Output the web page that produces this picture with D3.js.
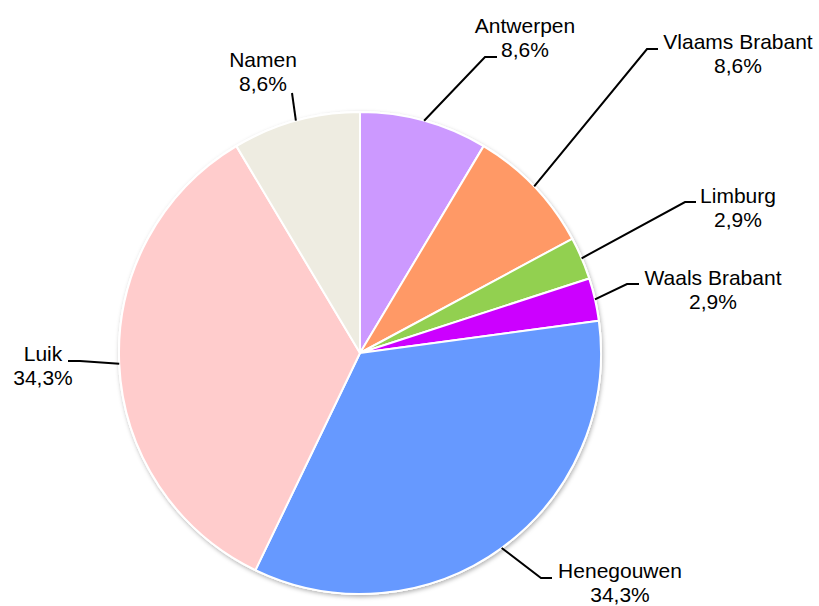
<!DOCTYPE html>
<html>
<head>
<meta charset="UTF-8" />
<title>Verdeling per provincie</title>
<script src="https://d3js.org/d3.v7.min.js"></script>
<style>
	body { margin: 0; background: #fff; }
	.lbl { font: 21px "Liberation Sans", Arial, sans-serif; fill: #000; }
	.leader { fill: none; stroke: #000; stroke-width: 2; }
</style>
</head>
<body>
<div id="chart"></div>
<script>
// data
var regions = ["Antwerpen", "Vlaams Brabant", "Limburg", "Waals Brabant", "Henegouwen", "Luik", "Namen"];
var counts  = [3, 3, 1, 1, 12, 12, 3];
var colors  = ["#CC99FF", "#FF9966", "#92D050", "#CC00FF", "#6699FF", "#FFCCCC", "#EEECE1"];

// label placement: elbow of leader, end of short horizontal, text centre x, first baseline
var labelPos = [
	{ex: 485, ey: 57,  hx: 497, tx: 525, ty: 33},
	{ex: 647, ey: 49,  hx: 658, tx: 738, ty: 49},
	{ex: 685, ey: 202, hx: 696, tx: 738, ty: 203},
	{ex: 627, ey: 284, hx: 639, tx: 713, ty: 285},
	{ex: 541, ey: 578, hx: 552, tx: 620, ty: 578},
	{ex: 80,  ey: 361, hx: 68,  tx: 43,  ty: 361},
	{ex: 292, ey: 93,  hx: 292, tx: 263, ty: 67}
];

var width = 819, height = 606;
var cx = 360, cy = 353, radius = 241;

var svg = d3.select("#chart").append("svg")
	.attr("width", width)
	.attr("height", height);

var defs = svg.append("defs");
defs.append("filter")
	.attr("id", "shadow")
	.attr("x", "-10%").attr("y", "-10%")
	.attr("width", "120%").attr("height", "120%")
	.append("feDropShadow")
	.attr("dx", 1).attr("dy", 2)
	.attr("stdDeviation", 2)
	.attr("flood-color", "#000")
	.attr("flood-opacity", 0.3);

var total = d3.sum(counts);
var data = regions.map(function(r, i) { return {name: r, value: counts[i], color: colors[i], pos: labelPos[i]}; });

var pie = d3.pie().sort(null).value(function(d) { return d.value; });
var arc = d3.arc().innerRadius(0).outerRadius(radius);
var arcs = pie(data);

var g = svg.append("g").attr("transform", "translate(" + cx + "," + cy + ")");

// white disc with shadow under the slices
g.append("circle")
	.attr("r", radius + 1)
	.attr("fill", "#fff")
	.attr("filter", "url(#shadow)");

g.selectAll("path.slice")
	.data(arcs)
	.enter().append("path")
	.attr("class", "slice")
	.attr("d", arc)
	.attr("fill", function(d) { return d.data.color; })
	.attr("stroke", "#fff")
	.attr("stroke-width", 2)
	.attr("stroke-linejoin", "round");

// leaders
function edgePoint(d) {
	var a = (d.startAngle + d.endAngle) / 2;
	return [cx + radius * Math.sin(a), cy - radius * Math.cos(a)];
}

svg.selectAll("polyline.leader")
	.data(arcs)
	.enter().append("polyline")
	.attr("class", "leader")
	.attr("points", function(d) {
		var p = d.data.pos, e = edgePoint(d);
		return [e, [p.ex, p.ey], [p.hx, p.ey]].map(function(q) { return q.join(","); }).join(" ");
	});

var fmt = function(v) { return (v / total * 100).toFixed(1).replace(".", ",") + "%"; };

var labels = svg.selectAll("text.lbl")
	.data(arcs)
	.enter().append("text")
	.attr("class", "lbl")
	.attr("text-anchor", "middle");

labels.append("tspan")
	.attr("x", function(d) { return d.data.pos.tx; })
	.attr("y", function(d) { return d.data.pos.ty; })
	.text(function(d) { return d.data.name; });

labels.append("tspan")
	.attr("x", function(d) { return d.data.pos.tx; })
	.attr("y", function(d) { return d.data.pos.ty + 24; })
	.text(function(d) { return fmt(d.data.value); });
</script>
</body>
</html>
